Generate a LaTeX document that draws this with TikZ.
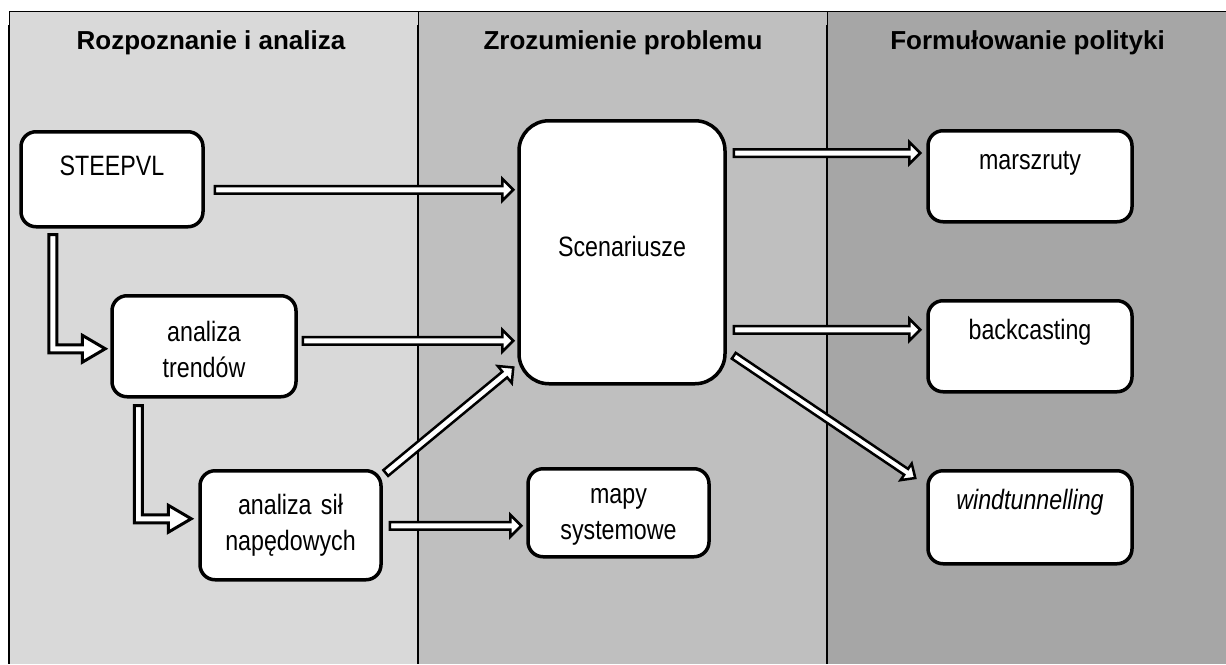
\documentclass[tikz,border=0pt]{standalone}
\usepackage{fontspec}
\setmainfont{Liberation Sans}
\newfontfamily\narrowsans[FakeStretch=0.83,WordSpace=0.83]{Liberation Sans}
\usetikzlibrary{calc}
\definecolor{colA}{HTML}{D9D9D9}
\definecolor{colB}{HTML}{BFBFBF}
\definecolor{colC}{HTML}{A6A6A6}
% straight block arrow: start, tip, half shaft, half head, head length
\newcommand\mkarrow[5]{%
  \coordinate (hb) at ($(#2)!#5!(#1)$);
  \draw[barrow] ($(#1)!#3!90:(#2)$) -- ($(hb)!#3!-90:(#1)$) -- ($(hb)!#4!-90:(#1)$) -- (#2)
    -- ($(hb)!#4!90:(#1)$) -- ($(hb)!#3!90:(#1)$) -- ($(#1)!#3!-90:(#2)$) -- cycle;}
% elbow block arrow (down, then right): start, tip, half shaft, half head, head length
\newcommand\mkelbow[5]{%
  \draw[barrow, line width=3pt] let \p1=(#1), \p2=(#2) in
    (\x1-#3,\y1) -- (\x1-#3,\y2-#3) -- (\x2-#5,\y2-#3) -- (\x2-#5,\y2-#4) -- (\x2,\y2)
    -- (\x2-#5,\y2+#4) -- (\x2-#5,\y2+#3) -- (\x1+#3,\y2+#3) -- (\x1+#3,\y1) -- cycle;}
\begin{document}
\begin{tikzpicture}[x=1pt,y=-1pt,
  box/.style={draw=black, line width=3.5pt, fill=white, rounded corners=15pt,
    inner sep=0pt, align=center, anchor=north,
    font=\narrowsans\fontsize{28}{36}\selectfont},
  colhead/.style={font=\bfseries\fontsize{26}{30}\selectfont, anchor=base, inner sep=0pt},
  barrow/.style={draw=black, fill=white, line width=2.5pt, line join=miter},
]
\useasboundingbox (0,0) rectangle (1226,664);
% columns
\fill[colA] (9,11) rectangle (418,664);
\fill[colB] (418,11) rectangle (827,664);
\fill[colC] (827,11) rectangle (1226,664);
\draw[line width=1pt] (9,11) -- (1226,11);
\draw[line width=1pt] (9.5,11) -- (9.5,25);
\draw[line width=2.2pt] (9.1,25) -- (9.1,664);
\draw[line width=1pt] (418,11) -- (418,25);
\draw[line width=2.3pt] (417.8,25) -- (417.8,664);
\draw[line width=1pt] (827,11) -- (827,25);
\draw[line width=2.3pt] (827.2,25) -- (827.2,664);
% headers
\node[colhead] (h1) at (211,49.3) {Rozpoznanie i analiza};
\node[colhead] (h2) at (623,49.3) {Zrozumienie problemu};
\node[colhead] (h3) at (1027.5,49.3) {Formułowanie polityki};
% boxes
\node[box, text width=182pt, text height=44pt, text depth=51pt] (steep) at (112,130) {STEEPVL};
\node[box, text width=184pt, text height=46pt, text depth=55pt] (trend) at (204,294) {analiza\\trendów};
\node[box, text width=181pt, text height=44pt, text depth=65pt] (sil) at (290.5,469) {analiza sił\\napędowych};
\node[box, text width=181pt, text height=35pt, text depth=53pt] (mapy) at (618.5,467) {mapy\\systemowe};
\node[box, rounded corners=30pt, text width=206pt, text height=136pt, text depth=127pt] (scen) at (622,119) {Scenariusze};
\node[box, text width=204pt, text height=39pt, text depth=52pt] (mars) at (1030,129) {marszruty};
\node[box, text width=204pt, text height=39pt, text depth=52pt] (back) at (1030,299) {backcasting};
\node[box, text width=204pt, text height=39pt, text depth=54pt] (wind) at (1030,469) {\itshape windtunnelling};
% arrow end points
\coordinate (a1s) at ($(steep.east)+(10,10.5)$);
\coordinate (a1t) at ($(scen.west |- a1s)+(-4,0)$);
\coordinate (a2s) at ($(trend.east)+(5,-5.5)$);
\coordinate (a2t) at ($(scen.west |- a2s)+(-4,0)$);
\coordinate (a3s) at ($(sil.north east)+(3,4)$);
\coordinate (a3t) at ($(scen.south west)+(-4,-18)$);
\coordinate (a4s) at ($(sil.east)+(7,0.5)$);
\coordinate (a4t) at ($(mapy.west |- a4s)+(-5,0)$);
\coordinate (a5s) at ($(scen.north east)+(7,34)$);
\coordinate (a5t) at ($(mars.west |- a5s)+(-6,0)$);
\coordinate (a6s) at ($(scen.east)+(7,77.5)$);
\coordinate (a6t) at ($(back.west |- a6s)+(-6,0)$);
\coordinate (a7s) at ($(scen.east)+(7,103.5)$);
\coordinate (a7t) at ($(wind.north west)+(-11,9)$);
\coordinate (e1s) at ($(steep.south west)+(33.5,6)$);
\coordinate (e1t) at ($(trend.west)+(-5,2.5)$);
\coordinate (e2s) at ($(trend.south west)+(28,7)$);
\coordinate (e2t) at ($(sil.west)+(-7,-6.5)$);
% arrows
\mkarrow{a1s}{a1t}{3.75pt}{11pt}{11pt}
\mkarrow{a2s}{a2t}{3.75pt}{11pt}{11pt}
\mkarrow{a3s}{a3t}{3.75pt}{11pt}{11pt}
\mkarrow{a4s}{a4t}{3.75pt}{11pt}{11pt}
\mkarrow{a5s}{a5t}{3.75pt}{11pt}{11pt}
\mkarrow{a6s}{a6t}{3.75pt}{11pt}{11pt}
\mkarrow{a7s}{a7t}{3.5pt}{10pt}{11pt}
\mkelbow{e1s}{e1t}{4pt}{13.5pt}{23pt}
\mkelbow{e2s}{e2t}{4pt}{13.5pt}{23pt}
\end{tikzpicture}
\end{document}
